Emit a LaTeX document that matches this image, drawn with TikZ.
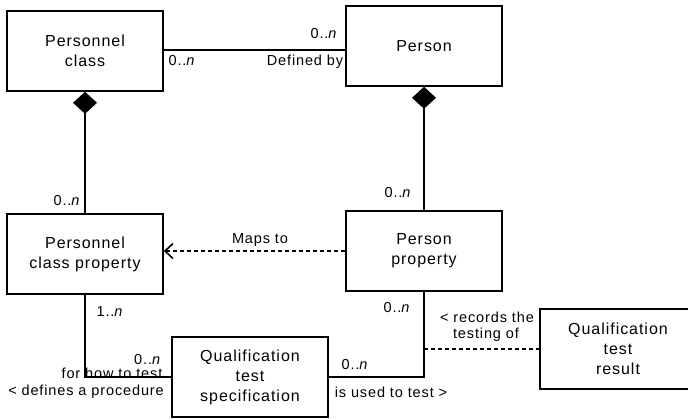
\documentclass[tikz,border=0pt]{standalone}
\usepackage{fontspec}
\setmainfont{Liberation Sans}[LetterSpace=6.0]
\usetikzlibrary{arrows.meta}
\tikzset{
  classbox/.style={draw, line width=1.6pt, minimum width=156pt, minimum height=80pt,
    align=center, font=\fontsize{16}{20}\selectfont, inner sep=0pt},
  lbl/.style={font=\fontsize{14.5}{17}\selectfont, inner sep=0pt, align=center},
  link/.style={line width=1.4pt},
  composite/.style={link, {Diamond[length=22pt,width=24pt]}-},
  mapsto/.style={link, dashed, dash pattern=on 4pt off 3pt, -{Straight Barb[length=8pt,width=15pt,line width=1.6pt]}},
  records/.style={link, dashed, dash pattern=on 4pt off 3pt}
}
\newcommand{\mult}[1]{#1..\textit{n}}
\begin{document}
\begin{tikzpicture}[x=1pt,y=-1pt]
  \useasboundingbox (0,0) rectangle (688,419);
  \node[classbox] (pc)  at (85,51)   {Personnel\\class};
  \node[classbox] (p)   at (424,46)  {Person};
  \node[classbox] (pcp) at (85,254)  {Personnel\\class property};
  \node[classbox] (pp)  at (424,251) {Person\\property};
  \node[classbox] (qts) at (250,377) {Qualification\\test\\specification};
  \node[classbox] (qtr) at (618,349) {Qualification\\test\\result};
  \draw[link] (pc.east |- 0,50) -- (p.west |- 0,50);
  \draw[composite] (pc.south) -- (pcp.north);
  \draw[composite] (p.south) -- (pp.north);
  \draw[mapsto] (pp.west) -- (pp.west -| pcp.east);
  \draw[link] (pcp.south) |- (qts.west);
  \draw[link] (qts.east) -| (pp.south);
  \coordinate (rec) at (qtr.west -| pp.south);
  \draw[records] (rec) -- (qtr.west);
  \node[lbl] (m-pc)    at (182,61)  {\mult{0}};
  \node[lbl] (m-p)     at (324,34)  {\mult{0}};
  \node[lbl] (definedby) at (305,62) {Defined by};
  \node[lbl] (m-pcp)   at (67,201)  {\mult{0}};
  \node[lbl] (m-pp)    at (398,193) {\mult{0}};
  \node[lbl] (mapsto)  at (260,240) {Maps to};
  \node[lbl] (m-pcp2)  at (110,312) {\mult{1}};
  \node[lbl] (m-pp2)   at (397,308) {\mult{0}};
  \node[lbl] (forhow)  at (112,373) {for how to test};
  \node[lbl, anchor=west] (m-qts) at (134,360) {\mult{0}};
  \node[lbl] (defines) at (86,392)  {< defines a procedure};
  \node[lbl] (m-qts2)  at (355,365) {\mult{0}};
  \node[lbl] (usedto)  at (391,392) {is used to test >};
  \node[lbl] (recthe)  at (487,317) {< records the};
  \node[lbl] (testof)  at (486,335) {testing of};
\end{tikzpicture}
\end{document}
